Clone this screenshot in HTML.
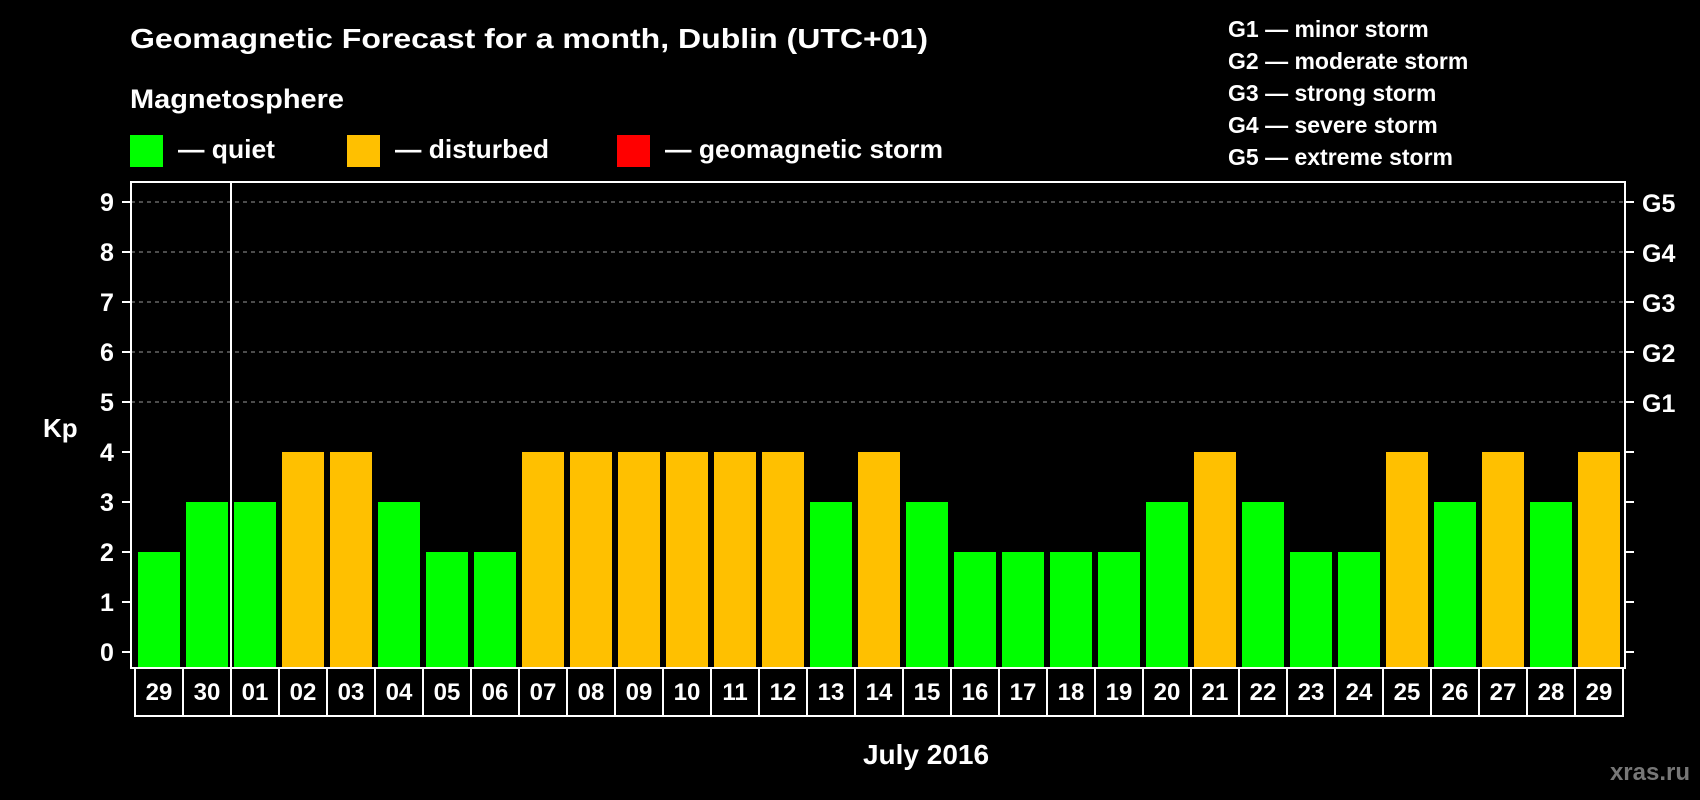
<!DOCTYPE html>
<html><head><meta charset="utf-8"><style>
html,body{margin:0;padding:0;background:#000;}
svg{display:block;font-family:"Liberation Sans",Arial,sans-serif;font-weight:bold;}
</style></head><body>
<svg id="chart" width="1700" height="800" viewBox="0 0 1700 800">
<rect x="0" y="0" width="1700" height="800" fill="#000"/>
<text x="130" y="48" font-size="28" fill="#fff" textLength="798" lengthAdjust="spacingAndGlyphs">Geomagnetic Forecast for a month, Dublin (UTC+01)</text>
<text x="130" y="108" font-size="27" fill="#fff" textLength="214" lengthAdjust="spacingAndGlyphs">Magnetosphere</text>
<g>
<rect x="130" y="135" width="33" height="32" fill="#00ff00"/>
<text x="178" y="158" font-size="26" fill="#fff" textLength="97" lengthAdjust="spacingAndGlyphs">— quiet</text></g>
<g>
<rect x="347" y="135" width="33" height="32" fill="#ffc000"/>
<text x="395" y="158" font-size="26" fill="#fff" textLength="154" lengthAdjust="spacingAndGlyphs">— disturbed</text></g>
<g>
<rect x="617" y="135" width="33" height="32" fill="#ff0000"/>
<text x="665" y="158" font-size="26" fill="#fff" textLength="278" lengthAdjust="spacingAndGlyphs">— geomagnetic storm</text></g>
<g font-size="23" fill="#fff">
<text x="1228" y="37">G1 — minor storm</text>
<text x="1228" y="69">G2 — moderate storm</text>
<text x="1228" y="101">G3 — strong storm</text>
<text x="1228" y="133">G4 — severe storm</text>
<text x="1228" y="165">G5 — extreme storm</text>
</g>
<text x="43" y="437" font-size="26" fill="#fff">Kp</text>
<text x="926" y="764" font-size="28" fill="#fff" text-anchor="middle">July 2016</text>
<text x="1690" y="780" font-size="24" fill="#777" text-anchor="end" style="font-weight:bold">xras.ru</text>
<g id="grid"></g><g id="bars"></g><g id="labels"></g>
<rect x="131" y="182" width="1494" height="486" fill="none" stroke="#fff" stroke-width="2"/>
<line x1="231" y1="182" x2="231" y2="716" stroke="#fff" stroke-width="2"/>
</svg>
<script>
const days = ["29","30","01","02","03","04","05","06","07","08","09","10","11","12","13","14","15","16","17","18","19","20","21","22","23","24","25","26","27","28","29"];
const kpValues = [2,3,3,4,4,3,2,2,4,4,4,4,4,4,3,4,3,2,2,2,2,3,4,3,2,2,4,3,4,3,4];
const yTicks = [0,1,2,3,4,5,6,7,8,9];
const gLabels = ["G1","G2","G3","G4","G5"];
const gLevels = [5,6,7,8,9];

const NS="http://www.w3.org/2000/svg";
const x0=135, slot=48, y0=652, unit=50;
const yScale=v=>y0-v*unit;
const xScale=i=>x0+i*slot;
function mk(tag,attrs,parent){const e=document.createElementNS(NS,tag);for(const k in attrs)e.setAttribute(k,attrs[k]);parent.appendChild(e);return e;}
const grid=document.getElementById('grid'),bars=document.getElementById('bars'),labels=document.getElementById('labels');
yTicks.forEach(v=>{
  const y=yScale(v);
  if(v>=5){const g=mk('line',{x1:131,x2:1625,y1:y,y2:y,stroke:'#999','stroke-dasharray':'4,4','stroke-width':1},grid);
  
  }
  const t1=mk('line',{x1:122,x2:131,y1:y,y2:y,stroke:'#fff','stroke-width':2},grid);
  
  
  const t2=mk('line',{x1:1625,x2:1634,y1:y,y2:y,stroke:'#fff','stroke-width':2},grid);
  
  
  const tl=mk('text',{x:107,y:y+9,'font-size':25,fill:'#fff','text-anchor':'middle'},grid);
  tl.textContent=v;
  
  
});
gLevels.forEach((v,i)=>{
  const t=mk('text',{x:1642,y:yScale(v)+10,'font-size':25,fill:'#fff'},grid);
  t.textContent=gLabels[i];
  
  
});
kpValues.forEach((v,i)=>{
  const x=xScale(i);
  const b=mk('rect',{x:x+3,y:yScale(v),width:42,height:v*unit+16,fill:v>=5?'#ff0000':(v>=4?'#ffc000':'#00ff00')},bars);
  
  
  const c=mk('rect',{x:x,y:668,width:slot,height:48,fill:'none',stroke:'#fff','stroke-width':2},labels);
  
  
  const t=mk('text',{x:x+slot/2,y:700,'font-size':24,fill:'#fff','text-anchor':'middle'},labels);
  t.textContent=days[i];
  
  
});
</script>
</body></html>
